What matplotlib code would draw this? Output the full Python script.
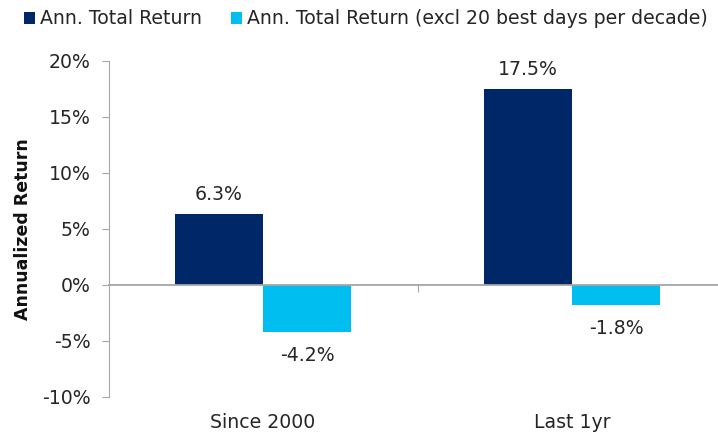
import matplotlib.pyplot as plt
import matplotlib.transforms as mtransforms
import numpy as np

plt.rcParams['font.family'] = ['DejaVu Sans']

categories = ['Since 2000', 'Last 1yr']
total_return = [6.3, 17.5]
excl_best_days = [-4.2, -1.8]
series_names = ['Ann. Total Return', 'Ann. Total Return (excl 20 best days per decade)']
yticks = [-10, -5, 0, 5, 10, 15, 20]

navy = '#002868'
cyan = '#00BEF0'
grey = '#A6A6A6'
txt = '#262626'
fs = 13.6

fig = plt.figure(figsize=(7.18, 4.34), dpi=100)
# axes runs a bit past the right edge, like the source chart
ax = fig.add_axes([108.5 / 718, 37 / 434, 618 / 718, 336 / 434])

x = np.arange(len(categories))
w = 0.285
b1 = ax.bar(x - w / 2, total_return, w, color=navy, label=series_names[0])
b2 = ax.bar(x + w / 2, excl_best_days, w, color=cyan, label=series_names[1])

for bars in (b1, b2):
    for r in bars:
        v = r.get_height()
        off = 14 if v >= 0 else -17
        ax.annotate(f'{v:.1f}%', (r.get_x() + r.get_width() / 2, v),
                    xytext=(0, off), textcoords='offset points',
                    ha='center', va='center', fontsize=fs, color=txt)

ax.set_xlim(-0.5, 1.5)
ax.set_ylim(-10, 20)
ax.set_yticks(yticks)
ax.set_yticklabels([f'{t}%' for t in yticks], fontsize=fs, color=txt)
ax.tick_params(axis='y', direction='out', length=5, color=grey, pad=8)

for s in ['top', 'right']:
    ax.spines[s].set_visible(False)
ax.spines['left'].set_color(grey)
ax.spines['bottom'].set_position(('data', 0))
ax.spines['bottom'].set_color(grey)
ax.spines['bottom'].set_linewidth(1.3)
ax.set_xticks([0.5])
ax.set_xticklabels([''])
ax.tick_params(axis='x', direction='out', length=5, color=grey)

trans = mtransforms.blended_transform_factory(ax.transData, ax.transAxes)
for xi, c in zip(x, categories):
    ax.text(xi, -25 / 336, c, transform=trans, ha='center', va='center',
            fontsize=fs, color=txt)

ax.set_ylabel('Annualized Return', fontsize=12.5, fontweight='bold', color='#111111')
ax.yaxis.set_label_coords(-(108.5 - 32) / 618, 0.5)

fig.legend(handles=[b1, b2], loc='center left', bbox_to_anchor=(24 / 718, 1 - 19 / 434),
           ncol=2, frameon=False, fontsize=fs, handlelength=0.6, handleheight=0.6,
           handletextpad=0.27, columnspacing=1.5, borderaxespad=0, borderpad=0,
           labelcolor=txt)

fig.savefig('out.png', dpi=100)
